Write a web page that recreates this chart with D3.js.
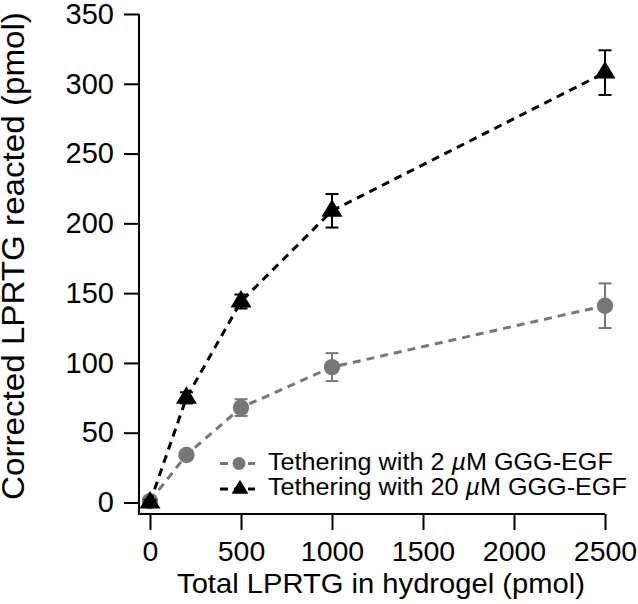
<!DOCTYPE html>
<html>
<head>
<meta charset="utf-8">
<script src="https://cdn.jsdelivr.net/npm/d3@7"></script>
<style>
  html, body { margin: 0; padding: 0; background: #fff; }
  svg { display: block; font-family: "Liberation Sans", Arial, Helvetica, sans-serif; }
</style>
</head>
<body>
<svg id="chart" width="638" height="604"></svg>
<script>
// ---- data ----
const xValues = [0, 200, 500, 1000, 2500];
const series2uM = [1, 34, 68, 97, 141];
const err2uM = [2, 3, 6, 10, 16];
const series20uM = [0, 75, 144, 209, 308];
const err20uM = [2, 4, 5, 12, 16];
const xTicks = [0, 500, 1000, 1500, 2000, 2500];
const yTicks = [0, 50, 100, 150, 200, 250, 300, 350];
const legendLabels = ["Tethering with 2 ", "Tethering with 20 "];
const xTitle = "Total LPRTG in hydrogel (pmol)";
const yTitle = "Corrected LPRTG reacted (pmol)";

const GRAY = "#777777";
const svg = d3.select("#chart");

const x = d3.scaleLinear().domain([0, 2500]).range([150, 605]);
const y = d3.scaleLinear().domain([0, 350]).range([502.5, 14]);
const axisX = 139, axisY = 514;

// axes
const gx = svg.append("g").attr("transform", `translate(0,${axisY})`)
  .call(d3.axisBottom(x).tickValues(xTicks).tickSize(16).tickPadding(11).tickFormat(d3.format("d")));
gx.select(".domain").remove();
gx.selectAll(".tick line").attr("stroke", "#000").attr("stroke-width", 2);
gx.selectAll(".tick text").attr("font-size", 28.5).attr("fill", "#000").attr("font-family", null);

const gy = svg.append("g").attr("transform", `translate(${axisX},0)`)
  .call(d3.axisLeft(y).tickValues(yTicks).tickSize(15).tickPadding(10).tickFormat(d3.format("d")));
gy.select(".domain").remove();
gy.selectAll(".tick line").attr("stroke", "#000").attr("stroke-width", 2);
gy.selectAll(".tick text").attr("font-size", 29).attr("fill", "#000").attr("font-family", null);

svg.append("path")
  .attr("d", `M${axisX},${y(350)}V${axisY}H${x(2500)}`)
  .attr("fill", "none").attr("stroke", "#000").attr("stroke-width", 2);

// helper: fit a text to a target length along its baseline
function fitLen(t, len) {
  const w = t.node().getComputedTextLength() || t.node().getBBox().width;
  return w > 0 ? len / w : 1;
}

// titles
const xt = svg.append("text").attr("x", 0).attr("y", 0).attr("text-anchor", "middle")
  .attr("font-size", 28.5).text(xTitle);
xt.attr("transform", `translate(381,593) scale(${fitLen(xt, 408)},1)`);
const yt = svg.append("text").attr("x", 0).attr("y", 0).attr("text-anchor", "middle")
  .attr("font-size", 31).text(yTitle);
yt.attr("transform", `translate(24,256) rotate(-90) scale(${fitLen(yt, 488)},1)`);

// series
const d2 = xValues.map((v, i) => ({x: v, y: series2uM[i], e: err2uM[i]}));
const d20 = xValues.map((v, i) => ({x: v, y: series20uM[i], e: err20uM[i]}));
const line = d3.line().x(d => x(d.x)).y(d => y(d.y));
const triPath = s => `M0,${-11.5*s}L${10.5*s},${6*s}L${-10.5*s},${6*s}Z`;

function drawSeries(data, color, marker) {
  const g = svg.append("g");
  g.append("path").datum(data).attr("d", line)
    .attr("fill", "none").attr("stroke", color).attr("stroke-width", 3)
    .attr("stroke-dasharray", "8,6");
  const eb = g.selectAll(".eb").data(data).enter().append("g");
  eb.append("line").attr("x1", d => x(d.x)).attr("x2", d => x(d.x))
    .attr("y1", d => y(d.y + d.e)).attr("y2", d => y(d.y - d.e))
    .attr("stroke", color).attr("stroke-width", 2);
  [1, -1].forEach(sgn => {
    eb.append("line").attr("x1", d => x(d.x) - 6.5).attr("x2", d => x(d.x) + 6.5)
      .attr("y1", d => y(d.y + sgn * d.e)).attr("y2", d => y(d.y + sgn * d.e))
      .attr("stroke", color).attr("stroke-width", 2);
  });
  if (marker === "circle") {
    g.selectAll(".m").data(data).enter().append("circle")
      .attr("cx", d => x(d.x)).attr("cy", d => y(d.y)).attr("r", 8.2).attr("fill", color);
  } else {
    g.selectAll(".m").data(data).enter().append("path")
      .attr("transform", d => `translate(${x(d.x)},${y(d.y)})`)
      .attr("d", triPath(1)).attr("fill", color);
  }
}
drawSeries(d2, GRAY, "circle");
drawSeries(d20, "#000", "triangle");

// legend
const legendRows = [
  {label: legendLabels[0], color: GRAY, marker: "circle", ly: 463.5, ty: 470, len: 345},
  {label: legendLabels[1], color: "#000", marker: "triangle", ly: 489, ty: 494.5, len: 359}
];
legendRows.forEach(r => {
  svg.append("line").attr("x1", 220).attr("x2", 255).attr("y1", r.ly).attr("y2", r.ly)
    .attr("stroke", r.color).attr("stroke-width", 3).attr("stroke-dasharray", "8,6");
  if (r.marker === "circle") {
    svg.append("circle").attr("cx", 239).attr("cy", r.ly).attr("r", 6.5).attr("fill", r.color);
  } else {
    svg.append("path").attr("transform", `translate(240,${r.ly})`).attr("d", triPath(0.8)).attr("fill", r.color);
  }
  const t = svg.append("text").attr("x", 0).attr("y", 0).attr("font-size", 24);
  t.append("tspan").text(r.label);
  t.append("tspan").attr("font-style", "italic").text("\u00B5");
  t.append("tspan").text("M GGG-EGF");
  t.attr("transform", `translate(268,${r.ty}) scale(${fitLen(t, r.len)},1)`);
});
</script>
</body>
</html>
